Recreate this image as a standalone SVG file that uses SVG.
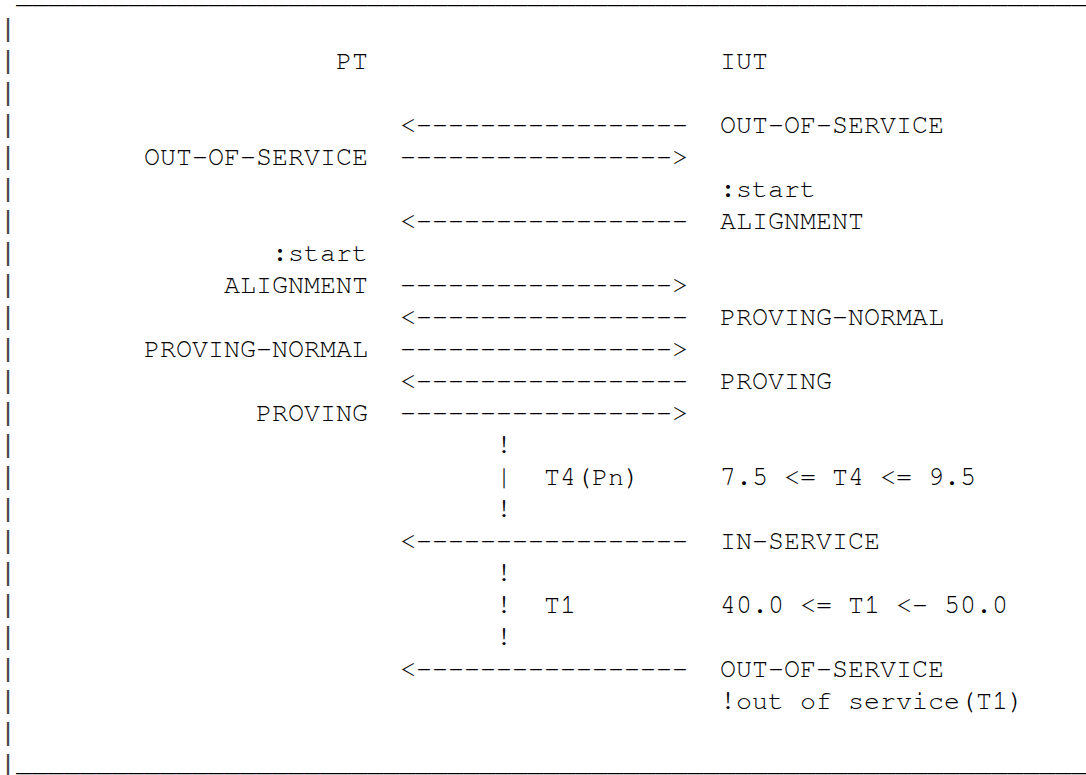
<svg xmlns="http://www.w3.org/2000/svg" width="1086" height="775" viewBox="0 0 1086 775">
<style>
text{font-family:"Nimbus Mono PS","Nimbus Mono L","FreeMono","Courier New","Liberation Mono",monospace;font-size:26.667px;fill:#000;white-space:pre}
text.bar{font-family:"Liberation Mono","Courier New",monospace;fill:#444}
</style>
<rect width="1086" height="775" fill="#fff"/>
<g id="frame">
<text x="16" y="3">___________________________________________________________________</text>
<text class="bar" x="0" y="37">|</text><text class="bar" x="0" y="69">|</text><text class="bar" x="0" y="101">|</text><text class="bar" x="0" y="133">|</text>
<text class="bar" x="0" y="165">|</text><text class="bar" x="0" y="197">|</text><text class="bar" x="0" y="229">|</text><text class="bar" x="0" y="261">|</text>
<text class="bar" x="0" y="293">|</text><text class="bar" x="0" y="325">|</text><text class="bar" x="0" y="357">|</text><text class="bar" x="0" y="389">|</text>
<text class="bar" x="0" y="421">|</text><text class="bar" x="0" y="453">|</text><text class="bar" x="0" y="485">|</text><text class="bar" x="0" y="517">|</text>
<text class="bar" x="0" y="549">|</text><text class="bar" x="0" y="581">|</text><text class="bar" x="0" y="613">|</text><text class="bar" x="0" y="645">|</text>
<text class="bar" x="0" y="677">|</text><text class="bar" x="0" y="709">|</text><text class="bar" x="0" y="741">|</text><text class="bar" x="0" y="773">|</text>
<text x="16" y="771">___________________________________________________________________</text>
</g>
<g id="pt">
<text x="336" y="69">PT</text>
<text x="144" y="165">OUT-OF-SERVICE</text>
<text x="272" y="261">:start</text>
<text x="224" y="293">ALIGNMENT</text>
<text x="144" y="357">PROVING-NORMAL</text>
<text x="256" y="421">PROVING</text>
</g>
<g id="iut">
<text x="720" y="69">IUT</text>
<text x="720" y="133">OUT-OF-SERVICE</text>
<text x="720" y="197">:start</text>
<text x="720" y="229">ALIGNMENT</text>
<text x="720" y="325">PROVING-NORMAL</text>
<text x="720" y="389">PROVING</text>
<text x="720" y="485">7.5 &lt;= T4 &lt;= 9.5</text>
<text x="720" y="549">IN-SERVICE</text>
<text x="720" y="613">40.0 &lt;= T1 &lt;- 50.0</text>
<text x="720" y="677">OUT-OF-SERVICE</text>
<text x="720" y="709">!out of service(T1)</text>
</g>
<g id="timers">
<text x="496" y="453">!</text>
<text x="496" y="485">|</text>
<text x="544" y="485">T4(Pn)</text>
<text x="496" y="517">!</text>
<text x="496" y="581">!</text>
<text x="496" y="613">!</text>
<text x="544" y="613">T1</text>
<text x="496" y="645">!</text>
</g>
<g id="connectors">
<text x="400" y="133">&lt;-----------------</text>
<text x="400" y="165">-----------------&gt;</text>
<text x="400" y="229">&lt;-----------------</text>
<text x="400" y="293">-----------------&gt;</text>
<text x="400" y="325">&lt;-----------------</text>
<text x="400" y="357">-----------------&gt;</text>
<text x="400" y="389">&lt;-----------------</text>
<text x="400" y="421">-----------------&gt;</text>
<text x="400" y="549">&lt;-----------------</text>
<text x="400" y="677">&lt;-----------------</text>
</g>
</svg>
